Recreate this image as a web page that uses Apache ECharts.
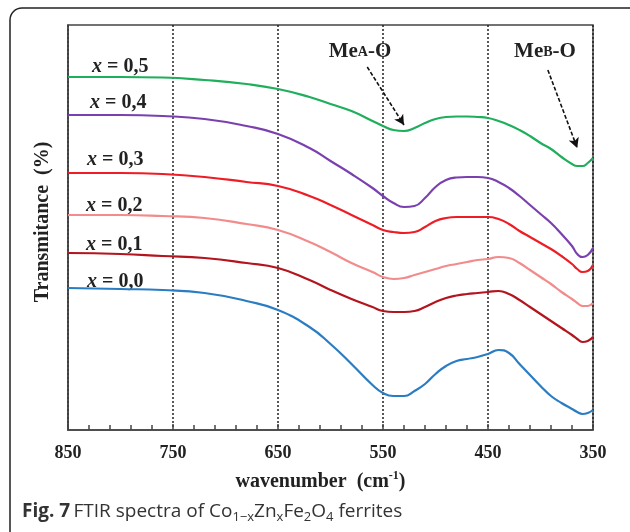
<!DOCTYPE html>
<html><head><meta charset="utf-8">
<script src="https://cdn.jsdelivr.net/npm/echarts@6/dist/echarts.min.js"></script>
<style>html,body{margin:0;padding:0;background:#fff}#c{width:630px;height:532px}</style>
</head><body><div id="c"></div>
<script>
// Wavenumbers (cm^-1)
const wavenumbers = [850,800,760,720,680,650,620,600,580,560,550,540,530,520,510,500,490,480,470,460,450,440,430,420,410,400,390,380,370,365,360,355,350];
// Transmittance (arbitrary units, curves offset for clarity)
const x05 = [353,353,352.5,350,346,341,333,326,319,309,304,300,299,302,307,311,313,313.5,313.5,313,312,309,305,300,294,287,281,273,266,264,264,267,272];
const x04 = [315,315,314,311,304,296,282,269,256,242,234,227,223,224,232,243,250,252.5,253,253,252,248,242,234,225,216,207,196,184,176,173,175,182];
const x03 = [257,257,256,253,248,244,234,225,215,205,200,198,197,198,203,209,212,213,213,213,213,211,206,199,193,187,181,174,166,161,158,159,165];
const x02 = [215,215,214,212,206,200,188,178,167,158,153,151,152,155,158,161,164,166,168,170,171,173,172,167,160,153,146,138,131,127,124,124,127];
const x01 = [177,176,174,172,167,162,150,140,131,123,119,118,118,119,123,128,132,134.5,136,137,138,139,136,130,123,116,109,102,95,91,88,89,93];
const x00 = [142,141,140,137,129,120,103,86,66,45,37,34,34,39,46,56,64,69,71,73,76,80,77,66,55,44,34,27,21,18,16,17,20];
const seriesNames = ['x = 0,5','x = 0,4','x = 0,3','x = 0,2','x = 0,1','x = 0,0'];
const seriesValues = [x05,x04,x03,x02,x01,x00];
const colors = ['#1fae5b','#7a40b0','#ee1d25','#f28b8b','#b3141d','#2a7cc3'];
const xTicks = [850,750,650,550,450,350];
// Annotation arrows: [from wavenumber, from value] -> [to wavenumber, to value]
const arrowMeA = [[565,363],[530,305]];
const arrowMeB = [[393,360],[365,282]];

const chart = echarts.init(document.getElementById('c'), null, {renderer:'canvas'});
const serif = '"Liberation Serif","Times New Roman",serif';
const sans = '"Open Sans","Noto Sans",sans-serif';
const series = seriesValues.map((vals,i)=>({
  name: seriesNames[i], type:'line', smooth:0.5, symbol:'none',
  data: wavenumbers.map((w,k)=>[w,vals[k]]),
  lineStyle:{color:colors[i], width:2.2}, itemStyle:{color:colors[i]}, z:3
}));
series.push({
  type:'line', data:[], silent:true,
  markLine:{silent:true, symbol:['none','arrow'], symbolSize:[8,10],
    lineStyle:{color:'#111', type:[4,2], width:1.6}, label:{show:false},
    data:[[{coord:arrowMeA[0]},{coord:arrowMeA[1]}],[{coord:arrowMeB[0]},{coord:arrowMeB[1]}]]}
});
const labelTops = [67,103,160,206,245,282];
const labelLefts = [92,90,87,86,86,87];
const graphic = [
  {type:'rect', shape:{x:10,y:8,width:640,height:560,r:12}, style:{fill:'none',stroke:'#222',lineWidth:1.5}, z:-1},
  {type:'text', left:22, top:502, style:{
    text:'{b|Fig. 7} {n|FTIR spectra of Co}{s|1−x}{n|Zn}{s|x}{n|Fe}{s|2}{n|O}{s|4}{n| ferrites}',
    rich:{
      b:{fontFamily:sans,fontWeight:'bold',fontSize:19,lineHeight:24,fill:'#333'},
      n:{fontFamily:sans,fontSize:19,lineHeight:24,fill:'#333'},
      s:{fontFamily:sans,fontSize:13,lineHeight:13,verticalAlign:'bottom',fill:'#333'}
    }}},
  {type:'text', x:360, y:52, style:{text:'{a|Me}{b|A}{a|-O}', align:'center', verticalAlign:'middle',
    rich:{a:{fontFamily:serif,fontWeight:'bold',fontSize:21,fill:'#222',lineHeight:24},
          b:{fontFamily:serif,fontWeight:'bold',fontSize:14,fill:'#222',lineHeight:24}}}},
  {type:'text', x:545, y:52, style:{text:'{a|Me}{b|B}{a|-O}', align:'center', verticalAlign:'middle',
    rich:{a:{fontFamily:serif,fontWeight:'bold',fontSize:21,fill:'#222',lineHeight:24},
          b:{fontFamily:serif,fontWeight:'bold',fontSize:14,fill:'#222',lineHeight:24}}}},
  {type:'text', x:43, y:222, rotation:Math.PI/2, style:{text:'Transmitance  (%)', align:'center', verticalAlign:'middle',
    fontFamily:serif, fontWeight:'bold', fontSize:20, fill:'#222'}}
];
seriesNames.forEach((n,i)=>{
  graphic.push({type:'text', x:labelLefts[i], y:labelTops[i], style:{
    text:'{i|x}{r|'+n.slice(1)+'}', verticalAlign:'middle',
    rich:{i:{fontFamily:serif,fontStyle:'italic',fontWeight:'bold',fontSize:20,fill:'#222'},
          r:{fontFamily:serif,fontWeight:'bold',fontSize:20,fill:'#222'}}}});
});

chart.setOption({
  animation:false,
  backgroundColor:'#fff',
  grid:{left:68,right:37,top:25,bottom:102,show:true,borderColor:'#444',borderWidth:1.5,backgroundColor:'transparent'},
  xAxis:{type:'value', min:350, max:850, interval:100, inverse:true,
    name:'{a|wavenumber  (cm}{s|-1}{a|)}', nameLocation:'middle', nameGap:40,
    nameTextStyle:{padding:[0,20,0,0], rich:{a:{fontFamily:serif,fontWeight:'bold',fontSize:20,color:'#222'},
      s:{fontFamily:serif,fontWeight:'bold',fontSize:12,color:'#222',verticalAlign:'top',lineHeight:24}}},
    axisLine:{show:true,lineStyle:{color:'#444',width:1.5}},
    axisTick:{show:true,inside:true,length:6,lineStyle:{color:'#444',width:1.5}},
    minorTick:{show:true,splitNumber:5,length:5,lineStyle:{color:'#444',width:1.5}},
    axisLabel:{fontFamily:serif,fontWeight:'bold',fontSize:18,color:'#222',margin:14,
      formatter:v=>xTicks.includes(v)?String(v):''},
    splitLine:{show:true,lineStyle:{color:'#222',type:[2,2],width:1.5}}
  },
  yAxis:{type:'value', min:0, max:405,
    axisLine:{show:true,lineStyle:{color:'#444',width:1.5}},
    axisTick:{show:false}, axisLabel:{show:false}, splitLine:{show:false}
  },
  series:series,
  graphic:graphic
});
</script></body></html>
